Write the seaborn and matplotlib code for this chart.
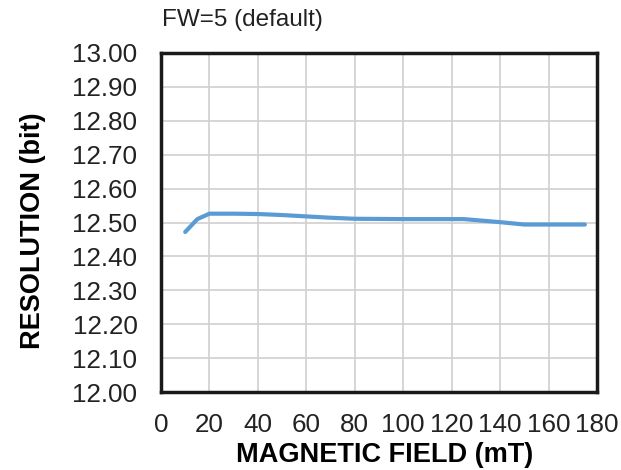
import matplotlib
matplotlib.use("Agg")
import matplotlib.pyplot as plt
import seaborn as sns
import pandas as pd
import numpy as np

field_mT = [10, 15, 20, 30, 40, 50, 60, 70, 80, 100, 125, 140, 150, 160, 175]
resolution_bit = [12.472, 12.51, 12.526, 12.526, 12.525, 12.522, 12.518, 12.514, 12.511, 12.510, 12.510, 12.501, 12.494, 12.494, 12.494]
x_ticks = [0, 20, 40, 60, 80, 100, 120, 140, 160, 180]
y_ticks = [12.0, 12.1, 12.2, 12.3, 12.4, 12.5, 12.6, 12.7, 12.8, 12.9, 13.0]

sns.set_theme(style="white")
plt.rcParams['font.family'] = ['Liberation Sans', 'DejaVu Sans']

df = pd.DataFrame({"field": field_mT, "res": resolution_bit})

fig = plt.figure(figsize=(6.21, 4.70), dpi=100)
ax = fig.add_axes([161/621, 1-392/470, (597-161)/621, (392-53)/470])

sns.lineplot(data=df, x="field", y="res", ax=ax, color="#5B9BD5", linewidth=3)

ax.set_xlim(0, 180)
ax.set_ylim(12.0, 13.0)
ax.set_xticks(x_ticks)
ax.set_yticks(y_ticks)
ax.set_xticklabels([str(t) for t in x_ticks])
ax.set_yticklabels([f"{t:.2f}" for t in y_ticks])
ax.grid(True, color="#d0d0d0", linewidth=1.2)
ax.set_axisbelow(True)
ax.tick_params(axis="both", length=0, labelsize=18.7, colors="#222222")
ax.tick_params(axis="x", pad=15)
ax.tick_params(axis="y", pad=17)
for s in ax.spines.values():
    s.set_visible(True)
    s.set_color("#1a1a1a")
    s.set_linewidth(2.5)

ax.set_xlabel("MAGNETIC FIELD (mT)", fontsize=19.5, fontweight="bold", color="black")
ax.set_ylabel("RESOLUTION (bit)", fontsize=19.5, fontweight="bold", color="black")
ax.xaxis.set_label_coords((385-161)/436, (392-442)/339)
ax.yaxis.set_label_coords((46-161)/436, (392-231)/339)

fig.text(162/621, 1-20/470, "FW=5 (default)", fontsize=17.5, color="#222222", ha="left", va="center")

fig.savefig("out.png", dpi=100)
